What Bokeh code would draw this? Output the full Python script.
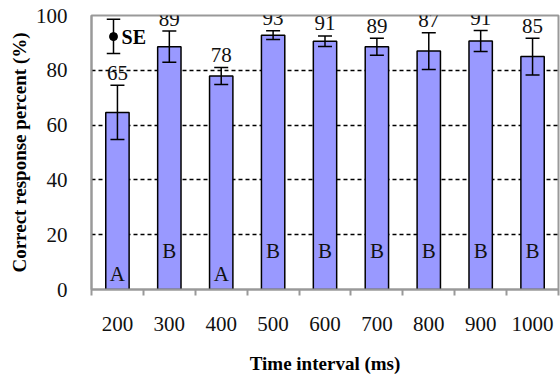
from bokeh.plotting import figure
from bokeh.models import ColumnDataSource, FixedTicker, Whisker, TeeHead, Label
from bokeh.core.properties import value
from bokeh.embed import file_html
from bokeh.resources import INLINE

categories = ["200", "300", "400", "500", "600", "700", "800", "900", "1000"]
means = [64.6, 88.6, 77.9, 92.8, 90.6, 88.6, 87.0, 90.7, 85.0]
se = [9.9, 5.7, 3.1, 1.6, 1.9, 3.1, 6.7, 3.8, 6.7]
groups = ["A", "B", "A", "B", "B", "B", "B", "B", "B"]

FONT = "Liberation Serif"
xs = list(range(1, len(categories) + 1))
upper = [m + s for m, s in zip(means, se)]
src = ColumnDataSource(dict(
    x=xs, top=means,
    upper=upper,
    lower=[m - s for m, s in zip(means, se)],
    ly=[u + 4.6 for u in upper],
    lbl=["%.0f" % m for m in means],
    grp=groups,
    gy=[5.8 if g == "A" else 13.9 for g in groups],
))

p = figure(width=560, height=381, output_backend="svg", toolbar_location=None,
           x_range=(0.5, len(categories) + 0.5), y_range=(0, 100),
           min_border_left=91, min_border_right=2, min_border_top=15, min_border_bottom=92)
p.background_fill_color = "white"
p.border_fill_color = "white"
p.outline_line_color = "#999999"
p.outline_line_width = 2

p.vbar(x="x", top="top", width=0.45, source=src, fill_color="#9999FF",
       line_color="black", line_width=1.5)

w = Whisker(base="x", upper="upper", lower="lower", source=src,
            line_color="black", line_width=1.5, level="overlay",
            upper_head=TeeHead(size=14, line_color="black", line_width=1.5),
            lower_head=TeeHead(size=14, line_color="black", line_width=1.5))
p.add_layout(w)

p.text(x="x", y="ly", text="lbl", source=src, text_font=value(FONT),
       text_font_size="21px", text_align="center", text_baseline="middle",
       text_color="#111111")
p.text(x="x", y="gy", text="grp", source=src, text_font=value(FONT),
       text_font_size="21px", text_align="center", text_baseline="middle",
       text_color="#111111")

# SE legend key
p.segment(x0=[0.924], y0=[86.1], x1=[0.924], y1=[98.6], line_color="black", line_width=1.5)
p.segment(x0=[0.924 - 0.13, 0.924 - 0.13], y0=[86.1, 98.6], x1=[0.924 + 0.13, 0.924 + 0.13],
          y1=[86.1, 98.6], line_color="black", line_width=1.5)
p.scatter(x=[0.924], y=[92.3], size=8, color="black")
p.add_layout(Label(x=1.08, y=92.3, text="SE", text_font=FONT, text_font_size="20px",
                   text_font_style="bold", text_baseline="middle", text_color="black"))

# axes
p.xaxis.ticker = FixedTicker(ticks=xs, minor_ticks=[i + 0.5 for i in range(0, len(categories) + 1)])
p.xaxis.major_label_overrides = {x: c for x, c in zip(xs, categories)}
p.xaxis.major_tick_out = 0
p.xaxis.major_tick_in = 0
p.xaxis.minor_tick_out = 6
p.xaxis.minor_tick_in = 0
p.xaxis.minor_tick_line_color = "#999999"
p.xaxis.minor_tick_line_width = 2
p.xaxis.major_label_standoff = 21
p.xaxis.axis_label = "Time interval (ms)"
p.xaxis.axis_label_standoff = 19

p.yaxis.ticker = FixedTicker(ticks=[0, 20, 40, 60, 80, 100])
p.yaxis.major_tick_out = 0
p.yaxis.major_tick_in = 0
p.yaxis.minor_tick_out = 0
p.yaxis.minor_tick_in = 0
p.yaxis.major_label_standoff = 24
p.yaxis.axis_label = "Correct response percent (%)"
p.yaxis.axis_label_standoff = 3

for ax in (p.xaxis, p.yaxis):
    ax.axis_line_color = "#999999"
    ax.axis_line_width = 2
    ax.major_label_text_font = FONT
    ax.major_label_text_font_size = "21px"
    ax.major_label_text_color = "#111111"
    ax.axis_label_text_font = FONT
    ax.axis_label_text_font_size = "19px"
    ax.axis_label_text_font_style = "bold"
    ax.axis_label_text_color = "black"

p.xgrid.grid_line_color = None
p.ygrid.ticker = FixedTicker(ticks=[20, 40, 60, 80])
p.ygrid.grid_line_color = "black"
p.ygrid.grid_line_dash = "4 3"
p.ygrid.grid_line_width = 1.3

open("out.html", "w").write(file_html(p, INLINE))
